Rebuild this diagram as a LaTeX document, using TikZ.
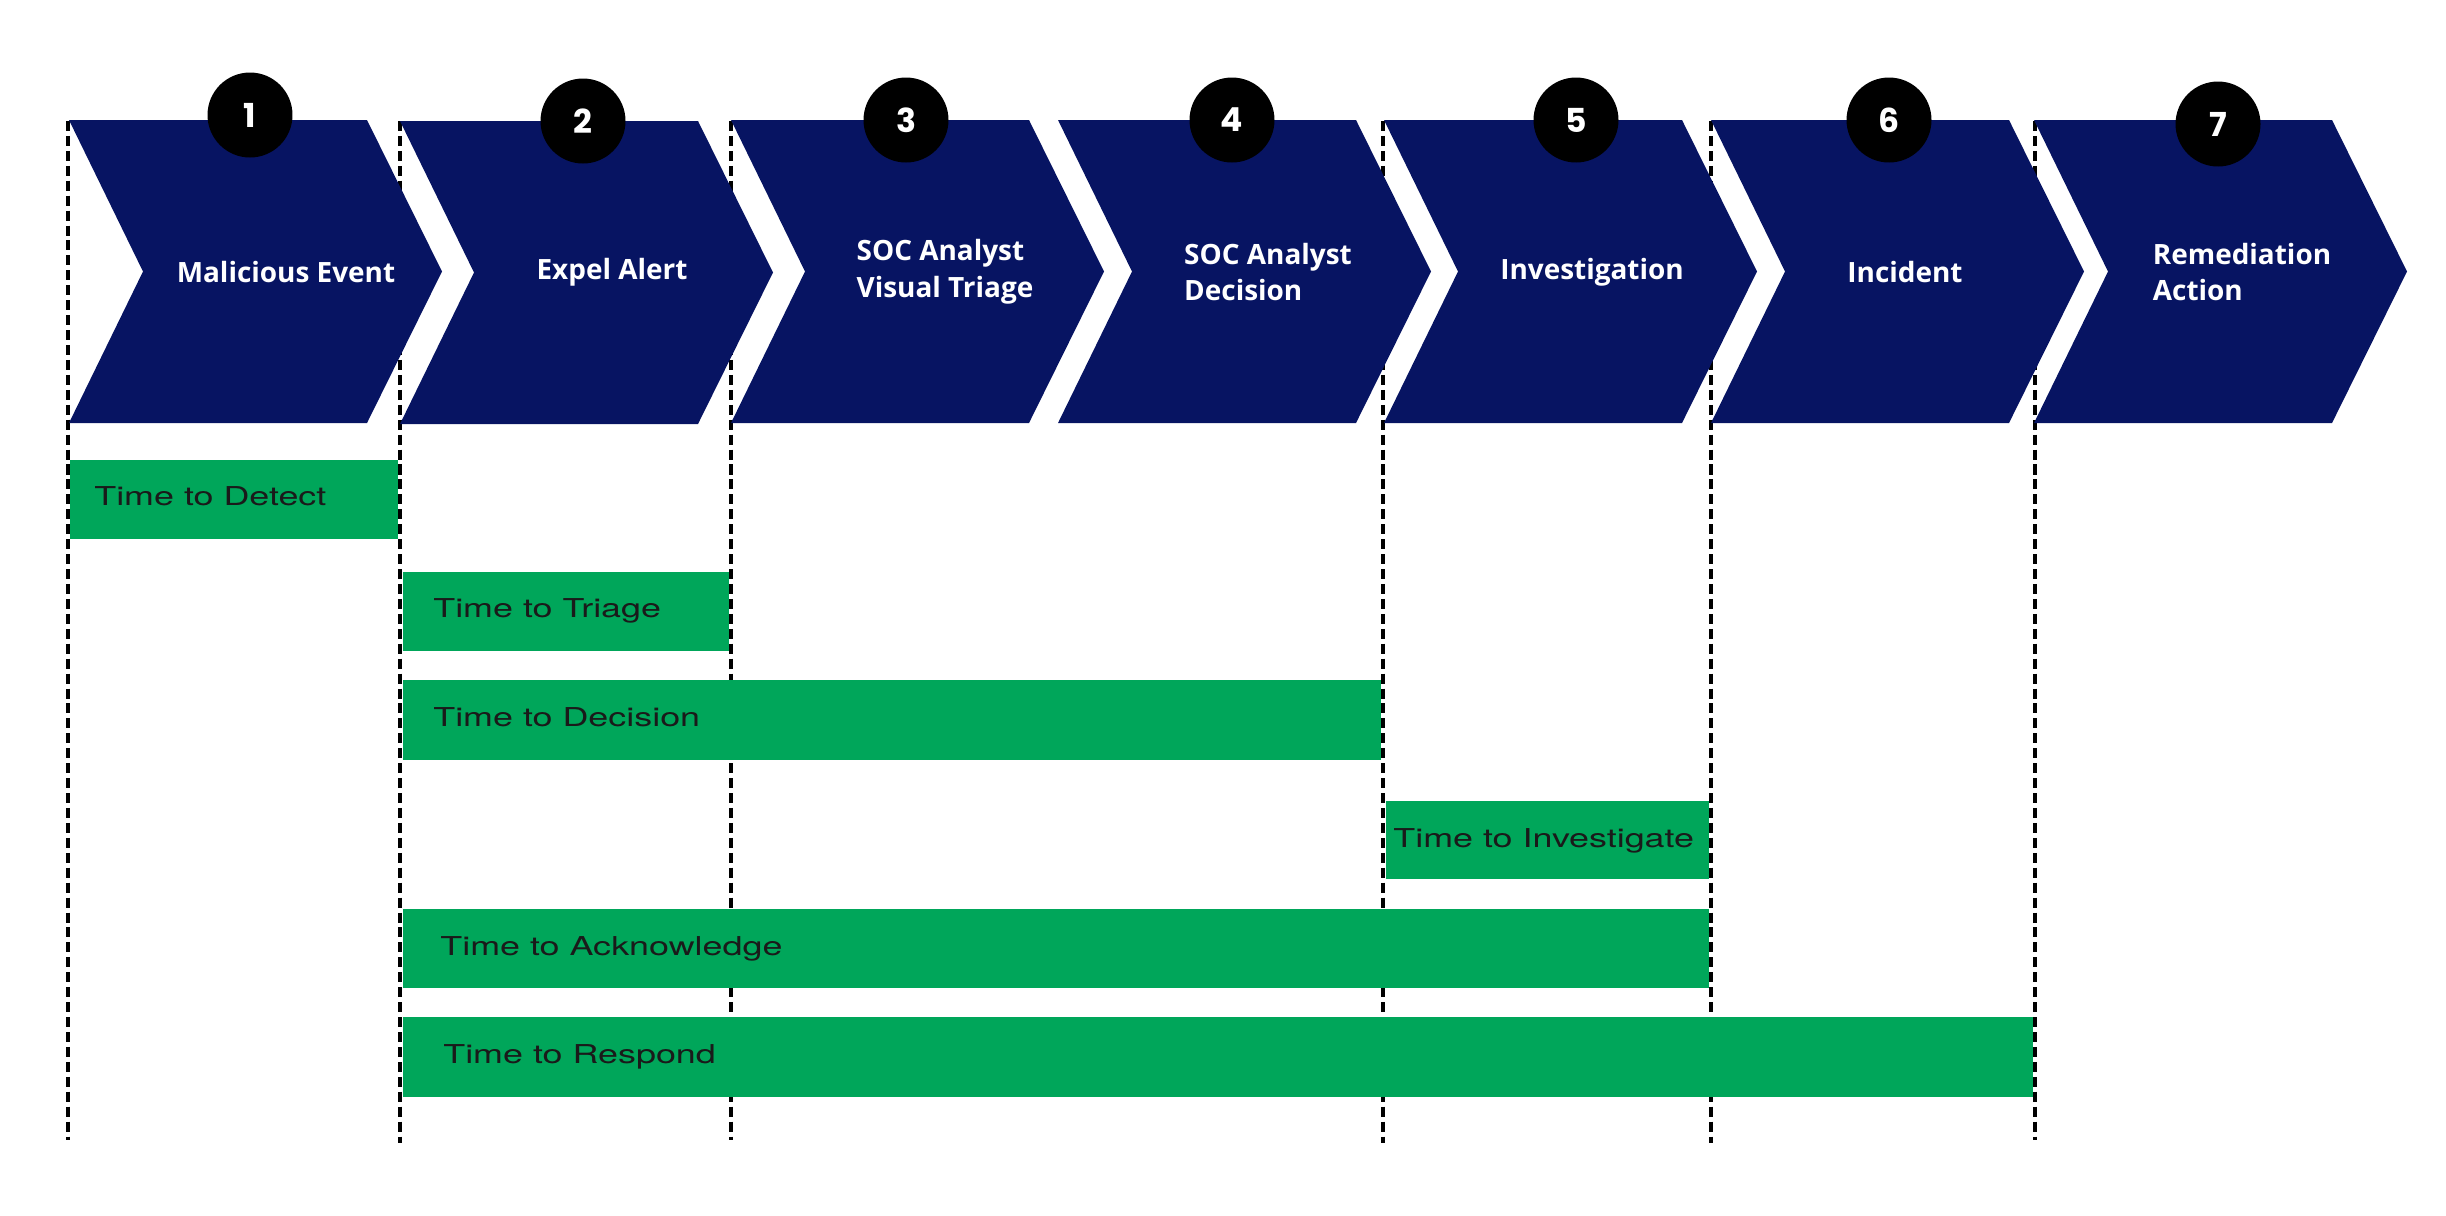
\documentclass[tikz,border=0pt]{standalone}
\usepackage{fontspec}
\setmainfont{TeX Gyre Heros}
\newfontfamily\stepfont{Open Sans}
\newfontfamily\numfont{Poppins}
\newfontfamily\barfont{TeX Gyre Heros}[FakeStretch=1.38]
\definecolor{navy}{RGB}{7,20,98}
\definecolor{expelgreen}{RGB}{0,166,90}
\definecolor{bartext}{RGB}{26,26,26}

\begin{document}
\begin{tikzpicture}[x=0.02cm, y=-0.02cm,
    steplabel/.style={text=white,align=left,inner sep=0pt,
      font=\stepfont\bfseries\fontsize{15.9}{21}\selectfont},
    stepnum/.style={circle,fill=black,minimum size=1.7cm,inner sep=0pt,
      text=white,font=\numfont\bfseries\fontsize{18.8}{20}\selectfont},
    barlabel/.style={anchor=base west,inner sep=0pt,text=bartext,
      font=\barfont\fontsize{14.8}{16}\selectfont},
    timeline/.style={black,line width=1.9pt,dash pattern=on 5.7pt off 2.8pt},
    chevron/.style={fill=navy} ]
    \useasboundingbox (0,0) rectangle (2446,1215);

    % dashed time marks
    \draw [timeline] (68,121) -- (68,1140);
    \draw [timeline] (400,121) -- (400,1143);
    \draw [timeline] (731,121) -- (731,1140);
    \draw [timeline] (1383,121) -- (1383,1143);
    \draw [timeline] (1711,121) -- (1711,1143);
    \draw [timeline] (2035,121) -- (2035,1140);

    % green bars
    \fill [expelgreen] (70,460) rectangle (398,539);
    \node [barlabel] at (94,505) (t1) {Time to Detect};
    \fill [expelgreen] (402.5,572) rectangle (729,651);
    \node [barlabel] at (433,617) (t2) {Time to Triage};
    \fill [expelgreen] (402.5,680) rectangle (1381,760);
    \node [barlabel] at (433,726) (t3) {Time to Decision};
    \fill [expelgreen] (1385.5,801) rectangle (1709,879);
    \node [barlabel] at (1393,847) (t4) {Time to Investigate};
    \fill [expelgreen] (402.5,909) rectangle (1709,988);
    \node [barlabel] at (440,955) (t5) {Time to Acknowledge};
    \fill [expelgreen] (402.5,1017) rectangle (2033,1097);
    \node [barlabel] at (443,1063) (t6) {Time to Respond};

    % chevrons
    \fill [chevron] (69,120) -- ++(298,0) -- ++(75,151.5) -- ++(-75,151.5) -- ++(-298,0) -- ++(74,-151.5) -- cycle;
    \fill [chevron] (400,121) -- ++(298,0) -- ++(75,151.5) -- ++(-75,151.5) -- ++(-298,0) -- ++(74,-151.5) -- cycle;
    \fill [chevron] (731,120) -- ++(298,0) -- ++(75,151.5) -- ++(-75,151.5) -- ++(-298,0) -- ++(74,-151.5) -- cycle;
    \fill [chevron] (1058,120) -- ++(298,0) -- ++(75,151.5) -- ++(-75,151.5) -- ++(-298,0) -- ++(74,-151.5) -- cycle;
    \fill [chevron] (1384,120) -- ++(298,0) -- ++(75,151.5) -- ++(-75,151.5) -- ++(-298,0) -- ++(74,-151.5) -- cycle;
    \fill [chevron] (1711,120) -- ++(298,0) -- ++(75,151.5) -- ++(-75,151.5) -- ++(-298,0) -- ++(74,-151.5) -- cycle;
    \fill [chevron] (2034,120) -- ++(298,0) -- ++(75,151.5) -- ++(-75,151.5) -- ++(-298,0) -- ++(74,-151.5) -- cycle;

    \node [steplabel] at (286,272) (c1) {Malicious Event};
    \node [steplabel] at (612,272) (c2) {Expel Alert};
    \node [steplabel] at (945,272) (c3) {SOC Analyst\\Visual Triage};
    \node [steplabel] at (1268,272) (c4) {SOC Analyst\\Decision};
    \node [steplabel] at (1592,272) (c5) {Investigation};
    \node [steplabel] at (1905,272) (c6) {Incident};
    \node [steplabel] at (2242,272) (c7) {Remediation\\Action};

    % step numbers
    \node [stepnum] at (250,115) (n1) {1};
    \node [stepnum] at (583,121) (n2) {2};
    \node [stepnum] at (906,120) (n3) {3};
    \node [stepnum] at (1232,120) (n4) {4};
    \node [stepnum] at (1576,120) (n5) {5};
    \node [stepnum] at (1889,120) (n6) {6};
    \node [stepnum] at (2218,124) (n7) {7};
\end{tikzpicture}
\end{document}
